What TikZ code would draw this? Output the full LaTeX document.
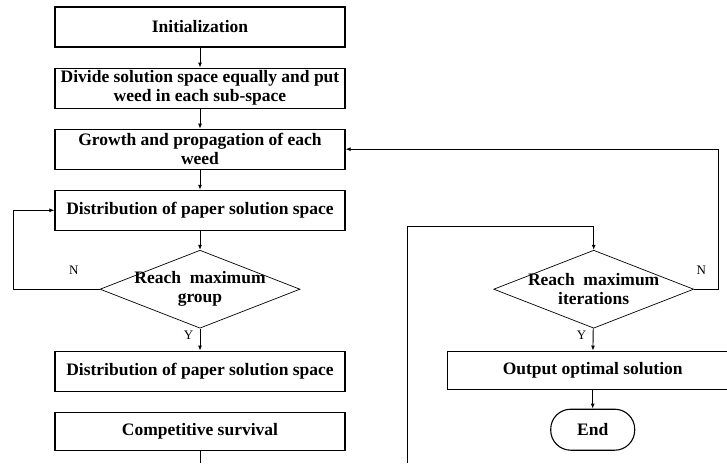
\documentclass[tikz,border=0pt]{standalone}
\usepackage{fontspec}
\setmainfont{Liberation Serif}
\usetikzlibrary{arrows.meta, positioning, shapes.geometric, calc}
\tikzset{
  mybox/.style={
    draw,
    line width=1.1pt,
    align=center,
    minimum width=290pt,
    minimum height=40pt,
    inner sep=2pt,
    font=\bfseries\fontsize{17.5}{19}\selectfont
  },
  decide/.style={diamond, draw, line width=0.7pt, minimum width=200pt, minimum height=78pt, inner sep=0pt},
  condtext/.style={align=center, font=\bfseries\fontsize{17.5}{19}\selectfont},
  term/.style={mybox, rounded corners=20pt, minimum width=84pt, minimum height=41pt},
  arr/.style={-{Latex[length=5pt,width=4pt]}, line width=0.9pt},
  line/.style={line width=0.9pt},
  yn/.style={font=\fontsize{13}{15}\selectfont}
}
\begin{document}
\begin{tikzpicture}[x=1pt, y=-1pt, node distance=20pt]
\useasboundingbox (0,0) rectangle (727,463);

% Left column
\node[mybox] (init) at (200,27) {Initialization};
\node[mybox, below=of init] (divide) {Divide solution space equally and put\\weed in each sub-space};
\node[mybox, below=of divide] (growth) {Growth and propagation of each\\weed};
\node[mybox, below=of growth] (distrib) {Distribution of paper solution space};
\node[decide, below=19pt of distrib, label={[condtext]center:Reach~ maximum\\group}] (reachgrp) {};
\node[mybox, below=22pt of reachgrp] (distribb) {Distribution of paper solution space};
\node[mybox, below=of distribb, minimum height=38pt] (compete) {Competitive survival};
\coordinate (compout) at (compete.south |- 0,463);

\draw[arr] (init) -- (divide);
\draw[arr] (divide) -- (growth);
\draw[arr] (growth) -- (distrib);
\draw[arr] (distrib) -- (reachgrp);
\draw[arr] (reachgrp) -- node[yn, pos=0.3, left=3pt] {Y} (distribb);
\draw[line] (compete) -- (compout);

% Loop back for group
\draw[arr] (reachgrp.west) -- node[yn, pos=0.3, above=11pt] {N} ++(-86,0) |- (distrib.west);

% Right column
\node[decide, right=193pt of reachgrp, label={[condtext]center:Reach~ maximum\\iterations}] (reachit) {};
\node[mybox, below=22pt of reachit, xshift=-1pt, minimum height=38pt] (output) {Output optimal solution};
\node[term, below=19pt of output] (finish) {End};
\coordinate (loopin) at (407,463);

\draw[arr] (loopin) -- ++(0,-237) -| (reachit.north);
\draw[arr] (reachit) -- node[yn, pos=0.3, left=3pt] {Y} (output);
\draw[arr] (output) -- (finish);

% Loop back for iterations
\draw[arr] (reachit.east) -- node[yn, pos=0.3, above=11pt] {N} ++(24,0) |- (growth.east);

\end{tikzpicture}
\end{document}
